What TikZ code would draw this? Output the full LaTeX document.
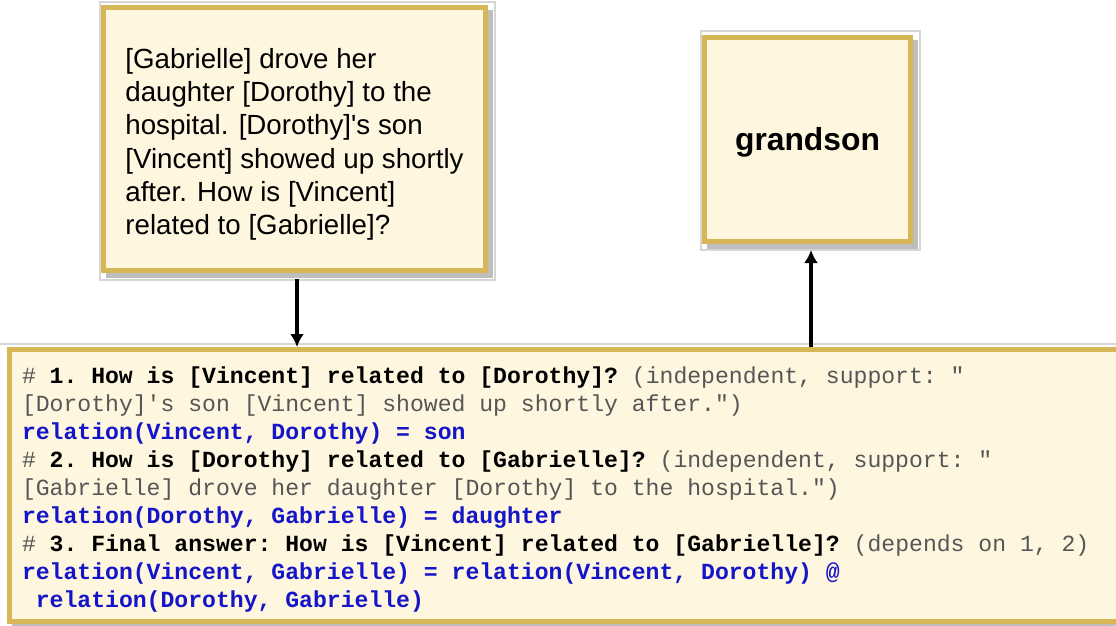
\documentclass[tikz,border=0pt]{standalone}
\usepackage{fontspec}
\setmainfont{Liberation Sans}[Ligatures=TeXOff]
\newfontfamily\codefont{Liberation Mono}[Ligatures=TeXOff]
\usetikzlibrary{positioning,shadows,arrows.meta,calc}

\definecolor{boxfill}{RGB}{254,246,223}
\definecolor{boxgold}{RGB}{214,182,86}
\definecolor{shadowgray}{RGB}{190,190,190}
\definecolor{framegray}{RGB}{214,214,214}
\definecolor{cmtgray}{RGB}{85,85,85}
\definecolor{codeblue}{RGB}{20,20,200}

% full-width spaces for the code lines
\newcommand{\monospace}{\frenchspacing\spaceskip=0.6em\xspaceskip=0.6em\relax}
\newcommand{\cmt}[1]{{\color{cmtgray}\mdseries #1}}
\newcommand{\qst}[1]{{\bfseries #1}}
\newcommand{\rel}[1]{{\color{codeblue}\bfseries #1}}

\tikzset{
  goldbox/.style={draw=boxgold, line width=5pt, fill=boxfill,
    general shadow={fill=shadowgray, draw=shadowgray, line width=5pt, shadow xshift=5pt, shadow yshift=-5pt}},
  pageframe/.style={draw=framegray, line width=1.5pt},
  link/.style={line width=3.5pt, -{Latex[length=13pt,width=14pt]}}
}

\begin{document}
\begin{tikzpicture}[x=1pt, y=-1pt]
\useasboundingbox (0,0) rectangle (1116,625);
\node[goldbox, minimum width=382pt, minimum height=263pt, align=left, font=\fontsize{27.7pt}{33.3pt}\selectfont] (story) at (294.5,139)
  {\frenchspacing\rule{0pt}{31pt}[Gabrielle] drove her\\ daughter [Dorothy] to the\\ hospital. [Dorothy]'s son\\ {[Vincent]} showed up shortly\\ after. How is [Vincent]\\ related to [Gabrielle]?};
\draw[pageframe] ([shift={(-1,-3)}]story.north west) rectangle ([shift={(7,7)}]story.south east);
\node[goldbox, minimum width=206pt, minimum height=204pt, text height=29pt, text depth=6.7pt, font=\bfseries\fontsize{31.8pt}{38pt}\selectfont] (answer) at (807.5,139.5) {grandson};
\draw[pageframe] ([shift={(-1,-4)}]answer.north west) rectangle ([shift={(7,6)}]answer.south east);
\node[goldbox, anchor=north west, text width=1100pt, inner xsep=12.5pt, minimum height=272pt, align=left, font=\codefont\fontsize{23.1pt}{28pt}\selectfont] (program) at (7,347)
  {\monospace\rule{0pt}{24pt}\cmt{\#} \qst{1. How is [Vincent] related to [Dorothy]?} \cmt{(independent, support: "}\\
   \cmt{[Dorothy]'s son [Vincent] showed up shortly after.")}\\
   \rel{relation(Vincent, Dorothy) = son}\\
   \cmt{\#} \qst{2. How is [Dorothy] related to [Gabrielle]?} \cmt{(independent, support: "}\\
   \cmt{[Gabrielle] drove her daughter [Dorothy] to the hospital.")}\\
   \rel{relation(Dorothy, Gabrielle) = daughter}\\
   \cmt{\#} \qst{3. Final answer: How is [Vincent] related to [Gabrielle]?} \cmt{(depends on 1, 2)}\\
   \rel{relation(Vincent, Gabrielle) = relation(Vincent, Dorothy) @}\\
   \hspace*{0.6em}\rel{relation(Dorothy, Gabrielle)}};
\draw[pageframe] ([shift={(-10,-3)}]program.north west) rectangle ([shift={(7,7)}]program.south east);
\draw[link, shorten <=6pt] ([xshift=2.5pt]story.south) -- ([xshift=2.5pt]story.south |- program.north);
\draw[link, shorten >=6pt] ([xshift=3.5pt]answer.south |- program.north) -- ([xshift=3.5pt]answer.south);
\end{tikzpicture}
\end{document}
